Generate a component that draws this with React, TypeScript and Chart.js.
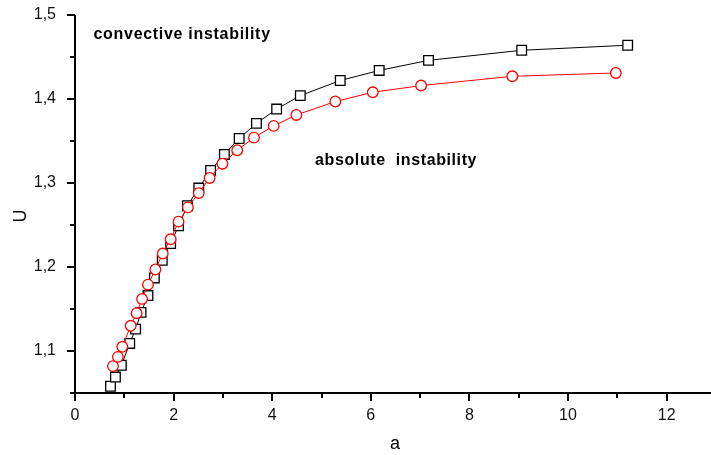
import React, { useEffect, useRef } from "react";
import { Chart, registerables } from "chart.js";

Chart.register(...registerables);

// ---- data ----
const convectiveA = [0.72, 0.82, 0.94, 1.11, 1.23, 1.34, 1.48, 1.61, 1.77, 1.94, 2.10, 2.28, 2.51, 2.75, 3.03, 3.33, 3.68, 4.09, 4.57, 5.38, 6.17, 7.17, 9.06, 11.21];
const convectiveU = [1.058, 1.069, 1.083, 1.109, 1.126, 1.146, 1.166, 1.187, 1.208, 1.228, 1.249, 1.273, 1.294, 1.315, 1.334, 1.353, 1.371, 1.388, 1.404, 1.422, 1.434, 1.446, 1.458, 1.464];
const absoluteA = [0.77, 0.87, 0.96, 1.13, 1.25, 1.36, 1.48, 1.63, 1.78, 1.94, 2.10, 2.29, 2.51, 2.73, 2.99, 3.29, 3.63, 4.03, 4.49, 5.28, 6.04, 7.02, 8.87, 10.97];
const absoluteU = [1.082, 1.093, 1.105, 1.130, 1.145, 1.162, 1.179, 1.197, 1.216, 1.233, 1.254, 1.271, 1.288, 1.306, 1.323, 1.339, 1.354, 1.368, 1.381, 1.397, 1.408, 1.416, 1.427, 1.431];

const xTickValues = [0, 1, 2, 3, 4, 5, 6, 7, 8, 9, 10, 11, 12];
const xMajorTicks = [0, 2, 4, 6, 8, 10, 12];
const yTickValues = [1.05, 1.1, 1.15, 1.2, 1.25, 1.3, 1.35, 1.4, 1.45, 1.5];
const yMajorTicks = [1.1, 1.2, 1.3, 1.4, 1.5];
const xMin = 0;
const xMax = 12.9;
const yMin = 1.05;
const yMax = 1.5;

const xTitle = "a";
const yTitle = "U";
const labelConvective = { text: "convective instability", a: 0.375, u: 1.471 };
const labelAbsolute = { text: "absolute  instability", a: 4.87, u: 1.3218 };

const FONT = '"Liberation Sans", Arial, sans-serif';

const isMajor = (v: number, majors: number[]) => majors.some((m) => Math.abs(m - v) < 1e-6);

const zeroPadding = (scale: any) => {
  scale.paddingTop = 0;
  scale.paddingBottom = 0;
  scale.paddingLeft = 0;
  scale.paddingRight = 0;
};

const decorPlugin = {
  id: "decor",
  beforeDatasetsDraw(chart: any) {
    const ctx = chart.ctx;
    const xs = chart.scales.x;
    const ys = chart.scales.y;
    const area = chart.chartArea;
    ctx.save();
    ctx.strokeStyle = "#000";
    ctx.lineWidth = 2;
    ctx.beginPath();
    ctx.moveTo(area.left, area.top);
    ctx.lineTo(area.left, area.bottom);
    ctx.moveTo(area.left - 1, area.bottom);
    ctx.lineTo(area.right, area.bottom);
    xTickValues.forEach((v) => {
      const px = Math.round(xs.getPixelForValue(v));
      const len = isMajor(v, xMajorTicks) ? 8 : 5;
      ctx.moveTo(px, area.bottom);
      ctx.lineTo(px, area.bottom + len);
    });
    yTickValues.forEach((v) => {
      const py = Math.round(ys.getPixelForValue(v));
      const len = isMajor(v, yMajorTicks) ? 8 : 5;
      ctx.moveTo(area.left, py);
      ctx.lineTo(area.left - len, py);
    });
    ctx.stroke();
    ctx.restore();
  },
  afterDraw(chart: any) {
    const ctx = chart.ctx;
    const xs = chart.scales.x;
    const ys = chart.scales.y;
    const area = chart.chartArea;
    ctx.save();
    ctx.fillStyle = "#000";
    ctx.font = `18px ${FONT}`;
    ctx.textAlign = "center";
    ctx.textBaseline = "alphabetic";
    ctx.fillText(xTitle, (area.left + area.right) / 2 + 2, 449);
    ctx.save();
    ctx.translate(26, (area.top + area.bottom) / 2 + 12);
    ctx.rotate(-Math.PI / 2);
    ctx.fillText(yTitle, 0, 0);
    ctx.restore();
    ctx.font = `bold 16px ${FONT}`;
    ctx.textAlign = "left";
    ctx.textBaseline = "alphabetic";
    (ctx as any).letterSpacing = "0.7px";
    ctx.fillText(labelConvective.text, xs.getPixelForValue(labelConvective.a), ys.getPixelForValue(labelConvective.u));
    (ctx as any).letterSpacing = "0.6px";
    ctx.fillText(labelAbsolute.text, xs.getPixelForValue(labelAbsolute.a), ys.getPixelForValue(labelAbsolute.u));
    (ctx as any).letterSpacing = "0px";
    ctx.restore();
  },
};

export default function App() {
  const ref = useRef<HTMLCanvasElement | null>(null);
  useEffect(() => {
    if (!ref.current) return;
    const chart = new Chart(ref.current, {
      type: "scatter",
      data: {
        datasets: [
          {
            label: "absolute instability",
            data: absoluteA.map((a, i) => ({ x: a, y: absoluteU[i] })),
            showLine: true,
            borderColor: "#ff0000",
            borderWidth: 1,
            pointStyle: "circle",
            pointRadius: 5.3,
            pointBorderWidth: 1.3,
            pointBorderColor: "#ff0000",
            pointBackgroundColor: "#ffffff",
            clip: false,
            order: 0,
          },
          {
            label: "convective instability",
            data: convectiveA.map((a, i) => ({ x: a, y: convectiveU[i] })),
            showLine: true,
            borderColor: "#000000",
            borderWidth: 1,
            pointStyle: "rect",
            pointRadius: 6.8,
            pointBorderWidth: 1.3,
            pointBorderColor: "#000000",
            pointBackgroundColor: "#ffffff",
            clip: false,
            order: 1,
          },
        ],
      },
      options: {
        responsive: false,
        animation: false,
        layout: { autoPadding: false, padding: { top: 15, right: 0, left: 0, bottom: 0 } },
        plugins: { legend: { display: false }, tooltip: { enabled: false } },
        scales: {
          x: {
            type: "linear",
            min: xMin,
            max: xMax,
            grid: { display: false },
            border: { display: false },
            afterBuildTicks: (scale: any) => {
              scale.ticks = xTickValues.map((v) => ({ value: v }));
            },
            afterFit: (scale: any) => {
              scale.height = 62;
              zeroPadding(scale);
            },
            ticks: {
              autoSkip: false,
              maxRotation: 0,
              padding: 5,
              color: "#111",
              font: { family: FONT, size: 16 },
              callback: (v: any) => (isMajor(Number(v), xMajorTicks) ? String(v) : ""),
            },
          },
          y: {
            type: "linear",
            min: yMin,
            max: yMax,
            grid: { display: false },
            border: { display: false },
            afterBuildTicks: (scale: any) => {
              scale.ticks = yTickValues.map((v) => ({ value: v }));
            },
            afterFit: (scale: any) => {
              scale.width = 75;
              zeroPadding(scale);
            },
            ticks: {
              autoSkip: false,
              padding: 11,
              color: "#111",
              font: { family: FONT, size: 16 },
              callback: (v: any) =>
                isMajor(Number(v), yMajorTicks) ? Number(v).toFixed(1).replace(".", ",") : "",
            },
          },
        },
      },
      plugins: [decorPlugin],
    });
    return () => chart.destroy();
  }, []);
  return (
    <div style={{ position: "fixed", left: 0, top: 0, width: 711, height: 455, background: "#fff" }}>
      <canvas ref={ref} width={711} height={455} style={{ display: "block" }} />
    </div>
  );
}
